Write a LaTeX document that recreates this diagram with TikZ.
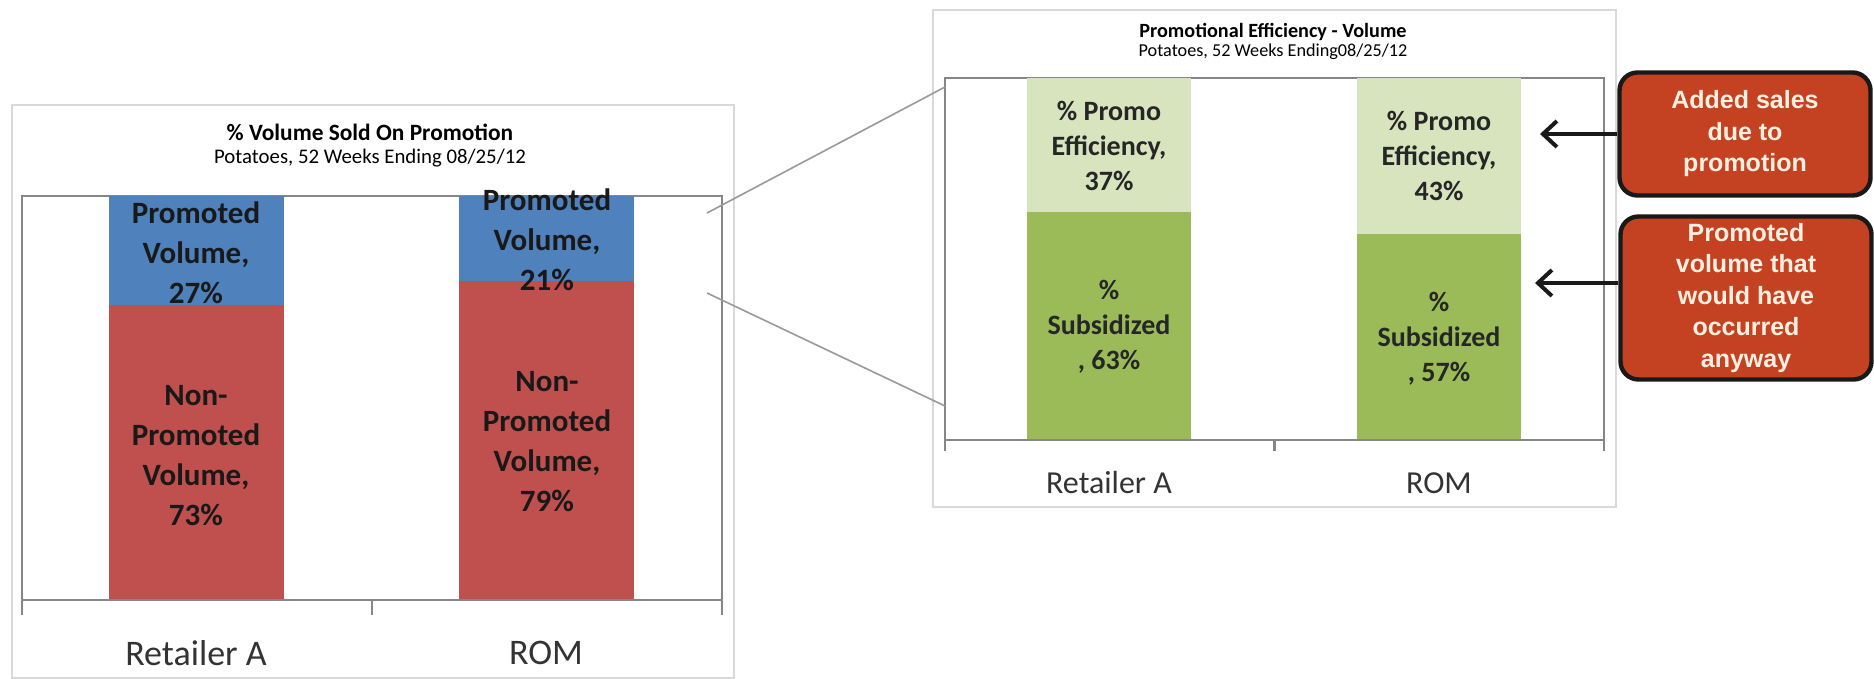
\documentclass[tikz,border=0pt]{standalone}
\usepackage{fontspec}
\setmainfont{Carlito}
\newfontfamily\calloutfont{Liberation Sans}
\usetikzlibrary{arrows.meta}

\definecolor{promoblue}{RGB}{79,129,189}
\definecolor{nonpromored}{RGB}{192,80,77}
\definecolor{effgreen}{RGB}{215,228,189}
\definecolor{subsgreen}{RGB}{155,187,89}
\definecolor{calloutred}{RGB}{196,66,34}
\definecolor{callouttext}{RGB}{255,240,225}
\definecolor{axisgray}{RGB}{134,134,134}
\definecolor{framegray}{RGB}{217,217,217}

\begin{document}
\begin{tikzpicture}[x=0.5pt,y=-0.5pt,
	bigval/.style={align=center,text=black!90,font=\fontsize{15.5}{20}\selectfont\bfseries},
	smallval/.style={align=center,text=black!85,font=\fontsize{14}{17.5}\selectfont\bfseries},
	catlabel/.style={text=black!80},
	callout/.style={draw=black!90,line width=2.2pt,fill=calloutred,rounded corners=9pt,text=callouttext,align=center,minimum width=125.5pt,font=\calloutfont\fontsize{12.5}{15.75}\selectfont\bfseries},
	pointer/.style={-{Straight Barb[length=7pt,width=13pt]},line width=2pt,black!90},
	zoomline/.style={draw=black!40,line width=0.8pt},
	plotframe/.style={draw=axisgray,line width=0.8pt},
	axisline/.style={draw=axisgray,line width=1.2pt},
	chartframe/.style={draw=framegray,line width=0.6pt}]
	\useasboundingbox (0,0) rectangle (1874,679);
	
	%LEFT CHART
	\draw[chartframe] (12,105) rectangle (734,678);
	\node[font=\fontsize{11.7}{14}\selectfont\bfseries] (voltitle) at (370,132) {\% Volume Sold On Promotion};
	\node[font=\fontsize{10.4}{12}\selectfont] (volsub) at (370,158) {Potatoes, 52 Weeks Ending 08/25/12};
	\draw[plotframe] (22,196) rectangle (722,600);
	%
	\fill[promoblue] (109,196) rectangle (284,305);
	\fill[nonpromored] (109,305) rectangle (284,600);
	\fill[promoblue] (459,196) rectangle (634,281);
	\fill[nonpromored] (459,281) rectangle (634,600);
	%
	\draw[axisline] (22,600)--(722,600);
	\foreach \x in {22,372,722} \draw[axisline] (\x,600)--++(0,15);
	%
	\node[bigval] (apromo) at (196,253) {Promoted\\Volume,\\27\%};
	\node[bigval] (anonpromo) at (196,456) {Non-\\Promoted\\Volume,\\73\%};
	\node[bigval] (rompromo) at (547,240) {Promoted\\Volume,\\21\%};
	\node[bigval] (romnonpromo) at (547,442) {Non-\\Promoted\\Volume,\\79\%};
	\node[catlabel,font=\fontsize{18}{20}\selectfont] (aleft) at (196,653) {Retailer A};
	\node[catlabel,font=\fontsize{18}{20}\selectfont] (romleft) at (546,653) {ROM};
	
	%RIGHT CHART
	\draw[chartframe] (933,10) rectangle (1616,507);
	\node[font=\fontsize{10.1}{12}\selectfont\bfseries] (efftitle) at (1273,32) {Promotional Efficiency - Volume};
	\node[font=\fontsize{9.1}{11}\selectfont] (effsub) at (1273,52) {Potatoes, 52 Weeks Ending08/25/12};
	\draw[plotframe] (945,78) rectangle (1604,440);
	%
	\fill[effgreen] (1027,78) rectangle (1191,212);
	\fill[subsgreen] (1027,212) rectangle (1191,440);
	\fill[effgreen] (1357,78) rectangle (1521,234);
	\fill[subsgreen] (1357,234) rectangle (1521,440);
	%
	\draw[axisline] (945,440)--(1604,440);
	\foreach \x in {945,1274.5,1604} \draw[axisline] (\x,440)--++(0,11);
	%
	\node[smallval] (aeff) at (1109,146) {\% Promo\\Efficiency,\\37\%};
	\node[smallval] (asubs) at (1109,327) {\%\\Subsidized\\, 63\%};
	\node[smallval] (romeff) at (1439,156) {\% Promo\\Efficiency,\\43\%};
	\node[smallval] (romsubs) at (1439,339) {\%\\Subsidized\\, 57\%};
	\node[catlabel,font=\fontsize{16}{18}\selectfont] (aright) at (1109,483) {Retailer A};
	\node[catlabel,font=\fontsize{16}{18}\selectfont] (romright) at (1439,483) {ROM};
	
	%ZOOM LINES
	\coordinate (zoomtopa) at (707,213);
	\coordinate (zoomtopb) at (945,87);
	\coordinate (zoombota) at (707,293);
	\coordinate (zoombotb) at (945,406);
	\draw[zoomline] (zoomtopa)--(zoomtopb);
	\draw[zoomline] (zoombota)--(zoombotb);
	
	%CALLOUTS
	\node[callout,minimum height=61.5pt] (added) at (1745,134) {Added sales\\due to\\promotion};
	\node[callout,minimum height=81.5pt] (anyway) at (1746,298) {Promoted\\volume that\\would have\\occurred\\anyway};
	\coordinate (addedtip) at (1540,134);
	\coordinate (anywaytip) at (1535,283);
	\draw[pointer] (added.west)--(addedtip);
	\draw[pointer] (anyway.west |- anywaytip)--(anywaytip);
\end{tikzpicture}
\end{document}
